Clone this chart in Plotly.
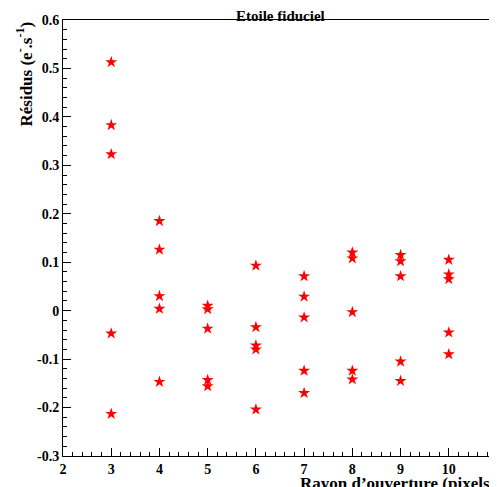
import plotly.graph_objects as go

x3 = [3] * 5
y3 = [0.513, 0.383, 0.323, -0.047, -0.213]
x4 = [4] * 5
y4 = [0.185, 0.126, 0.030, 0.004, -0.147]
x5 = [5] * 5
y5 = [0.010, 0.003, -0.037, -0.143, -0.156]
x6 = [6] * 5
y6 = [0.093, -0.034, -0.072, -0.080, -0.204]
x7 = [7] * 5
y7 = [0.071, 0.029, -0.014, -0.124, -0.170]
x8 = [8] * 5
y8 = [0.120, 0.108, -0.003, -0.124, -0.142]
x9 = [9] * 5
y9 = [0.115, 0.102, 0.071, -0.105, -0.145]
x10 = [10] * 5
y10 = [0.105, 0.075, 0.065, -0.045, -0.090]

x_ticks = [2, 3, 4, 5, 6, 7, 8, 9, 10, 11]
y_ticks = [-0.3, -0.2, -0.1, 0, 0.1, 0.2, 0.3, 0.4, 0.5, 0.6]

xs = x3 + x4 + x5 + x6 + x7 + x8 + x9 + x10
ys = y3 + y4 + y5 + y6 + y7 + y8 + y9 + y10

fig = go.Figure(go.Scatter(
    x=xs, y=ys, mode='markers',
    marker=dict(symbol='star', color='red', size=9, line=dict(width=0)),
))

axis = dict(showgrid=False, zeroline=False, linecolor='black', linewidth=1,
            mirror=True, ticks='inside', ticklen=8, tickcolor='black',
            automargin=False,
            minor=dict(ticks='inside', ticklen=4, tickcolor='black'),
            tickfont=dict(family='Liberation Serif', size=14, color='black'))

fig.update_layout(
    width=497, height=487,
    margin=dict(l=55, r=8, t=12, b=39, autoexpand=False),
    plot_bgcolor='white', paper_bgcolor='white',
    showlegend=False,
)
fig.update_xaxes(range=[2, 11], tickvals=x_ticks,
                 ticktext=['<b>%g</b>' % v for v in x_ticks],
                 minor_dtick=0.2, **axis)
fig.update_yaxes(range=[-0.3, 0.6], tickvals=y_ticks,
                 ticktext=['<b>%g</b>' % v for v in y_ticks],
                 minor_dtick=0.02, **axis)

fig.add_annotation(text='<b>Etoile fiduciel</b>', xref='paper', yref='paper',
                   x=0.5, y=1, yshift=14, xanchor='center', yanchor='top',
                   showarrow=False, font=dict(family='Liberation Serif', size=15, color='black'))
fig.add_annotation(text="<b>Rayon d’ouverture (pixels)</b>", xref='paper', yref='paper',
                   x=1, y=0, yshift=-16, xanchor='right', yanchor='top',
                   showarrow=False, font=dict(family='Liberation Serif', size=17, color='black'))
fig.add_annotation(text="<b>Résidus (e<sup>-</sup>.s<sup>-1</sup>)</b>", xref='paper', yref='paper',
                   x=0, y=1, xshift=-52, xanchor='left', yanchor='top', textangle=-90,
                   showarrow=False, font=dict(family='Liberation Serif', size=17, color='black'))

fig.write_html("out.html")
